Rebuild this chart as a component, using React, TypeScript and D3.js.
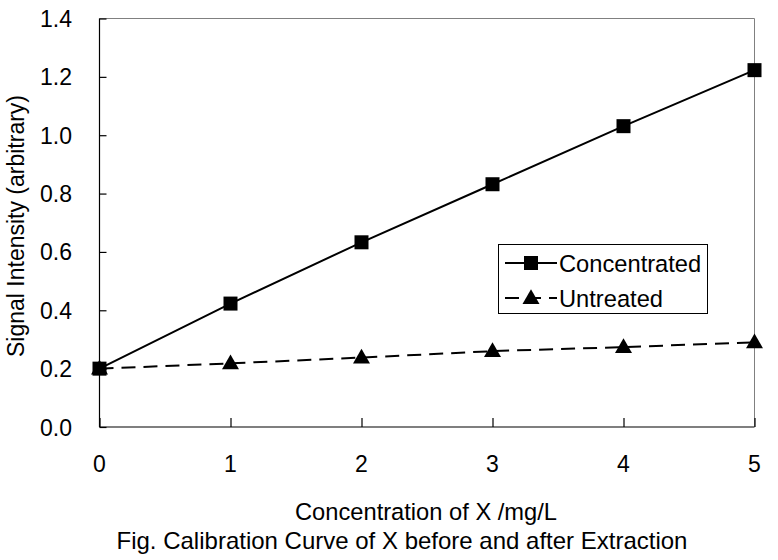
import React, { useEffect, useRef } from "react";
import * as d3 from "d3";

const concentrations = [0, 1, 2, 3, 4, 5];
const concentrated = [0.2, 0.423, 0.633, 0.832, 1.031, 1.223];
const untreated = [0.2, 0.218, 0.238, 0.26, 0.274, 0.29];
const yTicks = [0, 0.2, 0.4, 0.6, 0.8, 1.0, 1.2, 1.4];
const xTicks = [0, 1, 2, 3, 4, 5];
const seriesNames = ["Concentrated", "Untreated"];
const xTitle = "Concentration of X /mg/L";
const yTitle = "Signal Intensity (arbitrary)";
const caption = "Fig. Calibration Curve of X before and after Extraction";

const W = 778;
const H = 560;
const FONT = "'Liberation Sans', Arial, sans-serif";

export default function App() {
  const ref = useRef<SVGSVGElement>(null);
  useEffect(() => {
    const svg = d3.select(ref.current);
    svg.selectAll("*").remove();
    const x = d3.scaleLinear().domain([0, 5]).range([99.5, 754.5]);
    const y = d3.scaleLinear().domain([0, 1.4]).range([427, 18.5]);
    svg.append("rect").attr("width", W).attr("height", H).attr("fill", "#fff");

    // gray top & right borders
    svg.append("line").attr("x1", x(0)).attr("x2", x(5)).attr("y1", y(1.4)).attr("y2", y(1.4)).attr("stroke", "#808080").attr("stroke-width", 1);
    svg.append("line").attr("x1", x(5)).attr("x2", x(5)).attr("y1", y(1.4)).attr("y2", y(0)).attr("stroke", "#808080").attr("stroke-width", 1);

    // axes
    const yAxis = d3.axisRight(y).tickValues(yTicks).tickSize(7).tickFormat(() => "");
    const gy = svg.append("g").attr("transform", `translate(${x(0)},0)`).call(yAxis);
    gy.selectAll("path, line").attr("stroke", "#000").attr("stroke-width", 1.2);
    gy.select(".domain").attr("d", `M0,${y(1.4)}V${y(0)}`);
    const xAxis = d3.axisTop(x).tickValues(xTicks).tickSize(9).tickFormat(() => "");
    const gx = svg.append("g").attr("transform", `translate(0,${y(0)})`).call(xAxis);
    gx.selectAll("path, line").attr("stroke", "#000").attr("stroke-width", 1.2);
    gx.select(".domain").attr("d", `M${x(0)},0H${x(5)}`);

    // tick labels
    svg.append("g").selectAll("text").data(yTicks).join("text")
      .attr("x", 72).attr("y", (d) => y(d) + 8.5).attr("text-anchor", "end")
      .attr("font-family", FONT).attr("font-size", 23).text((d) => d3.format(".1f")(d));
    svg.append("g").selectAll("text").data(xTicks).join("text")
      .attr("x", (d) => x(d)).attr("y", 472).attr("text-anchor", "middle")
      .attr("font-family", FONT).attr("font-size", 23).text((d) => String(d));

    // titles
    svg.append("text").attr("x", 426).attr("y", 520).attr("text-anchor", "middle")
      .attr("font-family", FONT).attr("font-size", 23.7).text(xTitle);
    svg.append("text").attr("x", 402).attr("y", 549).attr("text-anchor", "middle")
      .attr("font-family", FONT).attr("font-size", 24).text(caption);
    svg.append("text").attr("transform", `translate(24,${226}) rotate(-90)`).attr("text-anchor", "middle")
      .attr("font-family", FONT).attr("font-size", 23).text(yTitle);

    const line = d3.line<number>().x((_, i) => x(concentrations[i])).y((d) => y(d));
    svg.append("path").attr("d", line(untreated)).attr("fill", "none").attr("stroke", "#000")
      .attr("stroke-width", 2).attr("stroke-dasharray", "14,8");
    svg.append("path").attr("d", line(concentrated)).attr("fill", "none").attr("stroke", "#000")
      .attr("stroke-width", 2);

    const tri = d3.symbol().type(d3.symbolTriangle).size(125);
    const sq = 14;
    svg.append("g").selectAll("path").data(untreated).join("path")
      .attr("d", tri()).attr("fill", "#000")
      .attr("transform", (d, i) => `translate(${x(concentrations[i])},${y(d) + 1})`);
    svg.append("g").selectAll("rect").data(concentrated).join("rect")
      .attr("x", (_, i) => x(concentrations[i]) - sq / 2).attr("y", (d) => y(d) - sq / 2)
      .attr("width", sq).attr("height", sq).attr("fill", "#000");

    // legend
    const lg = svg.append("g");
    lg.append("rect").attr("x", 498.5).attr("y", 244.5).attr("width", 209).attr("height", 69)
      .attr("fill", "#fff").attr("stroke", "#000").attr("stroke-width", 1);
    const ly = [263, 298];
    lg.append("line").attr("x1", 505).attr("x2", 557).attr("y1", ly[0]).attr("y2", ly[0]).attr("stroke", "#000").attr("stroke-width", 2);
    lg.append("rect").attr("x", 531 - 7).attr("y", ly[0] - 7).attr("width", 14).attr("height", 14).attr("fill", "#000");
    lg.append("line").attr("x1", 505).attr("x2", 557).attr("y1", ly[1]).attr("y2", ly[1]).attr("stroke", "#000").attr("stroke-width", 2).attr("stroke-dasharray", "14,8");
    lg.append("path").attr("d", tri()).attr("fill", "#000").attr("transform", `translate(531,${ly[1] + 1})`);
    seriesNames.forEach((n, i) => {
      lg.append("text").attr("x", 559).attr("y", ly[i] + 8.5).attr("font-family", FONT).attr("font-size", 23.7).text(n);
    });
  }, []);
  return <svg ref={ref} width={W} height={H} style={{ position: "absolute", left: 0, top: 0 }} />;
}
